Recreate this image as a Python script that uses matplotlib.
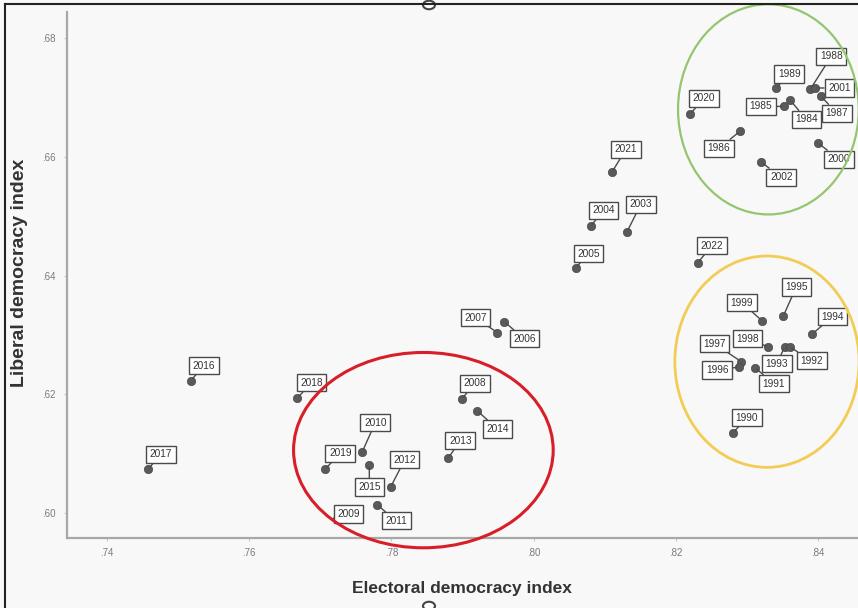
import matplotlib
matplotlib.use("Agg")
import matplotlib.pyplot as plt
from matplotlib.patches import Ellipse, Circle
from matplotlib.lines import Line2D
from matplotlib.ticker import FuncFormatter

plt.rcParams['font.family'] = ['Liberation Sans', 'DejaVu Sans']

years = ["2017", "2016", "2018", "2019", "2010", "2015", "2009", "2012", "2011",
         "2013", "2008", "2014", "2007", "2006", "2005", "2004", "2003", "2021",
         "2022", "2020", "1986", "1989", "1985", "1984", "1988", "2001", "1987",
         "2000", "2002", "1995", "1994", "1999", "1998", "1997", "1996", "1993",
         "1992", "1991", "1990"]
electoral = [0.7458, 0.7518, 0.7668, 0.7707, 0.7759, 0.7769, 0.7724, 0.7799, 0.7780,
             0.7880, 0.7899, 0.7921, 0.7949, 0.7959, 0.8059, 0.8080, 0.8131, 0.8110,
             0.8231, 0.8220, 0.8290, 0.8341, 0.8352, 0.8361, 0.8389, 0.8396, 0.8404,
             0.8400, 0.8320, 0.8351, 0.8392, 0.8321, 0.8330, 0.8292, 0.8289, 0.8353,
             0.8360, 0.8311, 0.8280]
liberal = [0.6074, 0.6223, 0.6194, 0.6074, 0.6103, 0.6081, 0.5990, 0.6044, 0.6014,
           0.6093, 0.6192, 0.6172, 0.6304, 0.6322, 0.6413, 0.6483, 0.6473, 0.6574,
           0.6422, 0.6672, 0.6643, 0.6716, 0.6685, 0.6695, 0.6714, 0.6716, 0.6702,
           0.6623, 0.6591, 0.6332, 0.6302, 0.6324, 0.6280, 0.6255, 0.6246, 0.6280,
           0.6280, 0.6245, 0.6135]

# label offsets in pixels (dx right, dy down in image space)
label_offsets = {
    "2017": (13, -15), "2016": (13, -15), "2018": (14, -15), "2019": (15, -16),
    "2010": (13, -29), "2015": (0, 22), "2009": (11, -5), "2012": (14, -27),
    "2011": (19, 16), "2013": (12, -17), "2008": (13, -16), "2014": (20, 18),
    "2007": (-22, -15), "2006": (20, 17), "2005": (13, -14), "2004": (13, -16),
    "2003": (14, -28), "2021": (14, -23), "2022": (14, -17), "2020": (14, -16),
    "1986": (-21, 17), "1989": (13, -14), "1985": (-23, 0), "1984": (16, 19),
    "1988": (21, -33), "2001": (24, 0), "1987": (16, 17), "2000": (21, 16),
    "2002": (20, 15), "1995": (13, -29), "1994": (20, -17), "1999": (-20, -18),
    "1998": (-21, -8), "1997": (-27, -18), "1996": (-22, 3), "1993": (-8, 17),
    "1992": (22, 14), "1991": (19, 16), "1990": (14, -15),
}

x_ticks = [0.74, 0.76, 0.78, 0.80, 0.82, 0.84]
y_ticks = [0.60, 0.62, 0.64, 0.66, 0.68]

# highlight ellipses: (center x, center y, width, height, colour, line width)
ellipses = [
    (0.7845, 0.6106, 0.0365, 0.0329, "#d81e28", 2.2),
    (0.8330, 0.6680, 0.0254, 0.0354, "#93c66f", 1.6),
    (0.8328, 0.6255, 0.0259, 0.0356, "#f2cc55", 2.0),
]

W, H = 858, 608
fig = plt.figure(figsize=(W / 100, H / 100), dpi=100)
fig.patch.set_facecolor("#f8f8f8")

ax_left, ax_right, ax_top, ax_bottom = 67, 858, 12, 538
ax = fig.add_axes([ax_left / W, 1 - ax_bottom / H, (ax_right - ax_left) / W, (ax_bottom - ax_top) / H])
ax.set_facecolor("#f8f8f8")
ax.set_xlim(0.7344, 0.8456)
ax.set_ylim(0.5958, 0.6844)

for s in ["top", "right"]:
    ax.spines[s].set_visible(False)
for s in ["left", "bottom"]:
    ax.spines[s].set_color("#a8a8a8")
    ax.spines[s].set_linewidth(1.6)

ax.set_xticks(x_ticks)
ax.set_yticks(y_ticks)
fmt = FuncFormatter(lambda v, p: ("%.2f" % v)[1:])
ax.xaxis.set_major_formatter(fmt)
ax.yaxis.set_major_formatter(fmt)
ax.tick_params(length=2, color="#c8c8c8", labelsize=7, labelcolor="#7a7a7a")
ax.tick_params(axis="x", pad=5)
ax.tick_params(axis="y", pad=6)

ax.scatter(electoral, liberal, s=36, color="#5a5a5a", zorder=3, edgecolors="#4a4a4a", linewidths=0.5)

for yr, xv, yv in zip(years, electoral, liberal):
    dx, dy = label_offsets[yr]
    ax.annotate(yr, (xv, yv), xytext=(dx, -dy), textcoords="offset pixels",
                ha="center", va="center", fontsize=7.3, color="#333333",
                bbox=dict(boxstyle="square,pad=0.35", fc="white", ec="#4a4a4a", lw=1.0),
                arrowprops=dict(arrowstyle="-", color="#4a4a4a", lw=1.0, shrinkA=0, shrinkB=2),
                zorder=4)

for cx, cy, w, h, c, lw in ellipses:
    ax.add_patch(Ellipse((cx, cy), w, h, fill=False, edgecolor=c, lw=lw, zorder=5, clip_on=False))

ax.set_xlabel("Electoral democracy index", fontsize=12.5, fontweight="bold", color="#333333")
ax.set_ylabel("Liberal democracy index", fontsize=14, fontweight="bold", color="#333333")
ax.xaxis.set_label_coords((462 - ax_left) / (ax_right - ax_left), (ax_bottom - 588) / (ax_bottom - ax_top))
ax.yaxis.set_label_coords((20 - ax_left) / (ax_right - ax_left), (ax_bottom - 273) / (ax_bottom - ax_top))
ax.xaxis.label.set_va("center")
ax.yaxis.label.set_va("center")

# screenshot frame and selection handles
fig.add_artist(Line2D([5 / W, 5 / W], [0, 1 - 4 / H], transform=fig.transFigure, color="#222222", lw=1.5))
fig.add_artist(Line2D([5 / W, 1], [1 - 4 / H, 1 - 4 / H], transform=fig.transFigure, color="#222222", lw=1.5))
for cy in [5, 606]:
    c = Circle((429 / W, 1 - cy / H), 6 / W, transform=fig.transFigure, fc="white", ec="#444444", lw=1.5)
    fig.add_artist(c)

fig.savefig("out.png", dpi=100)
